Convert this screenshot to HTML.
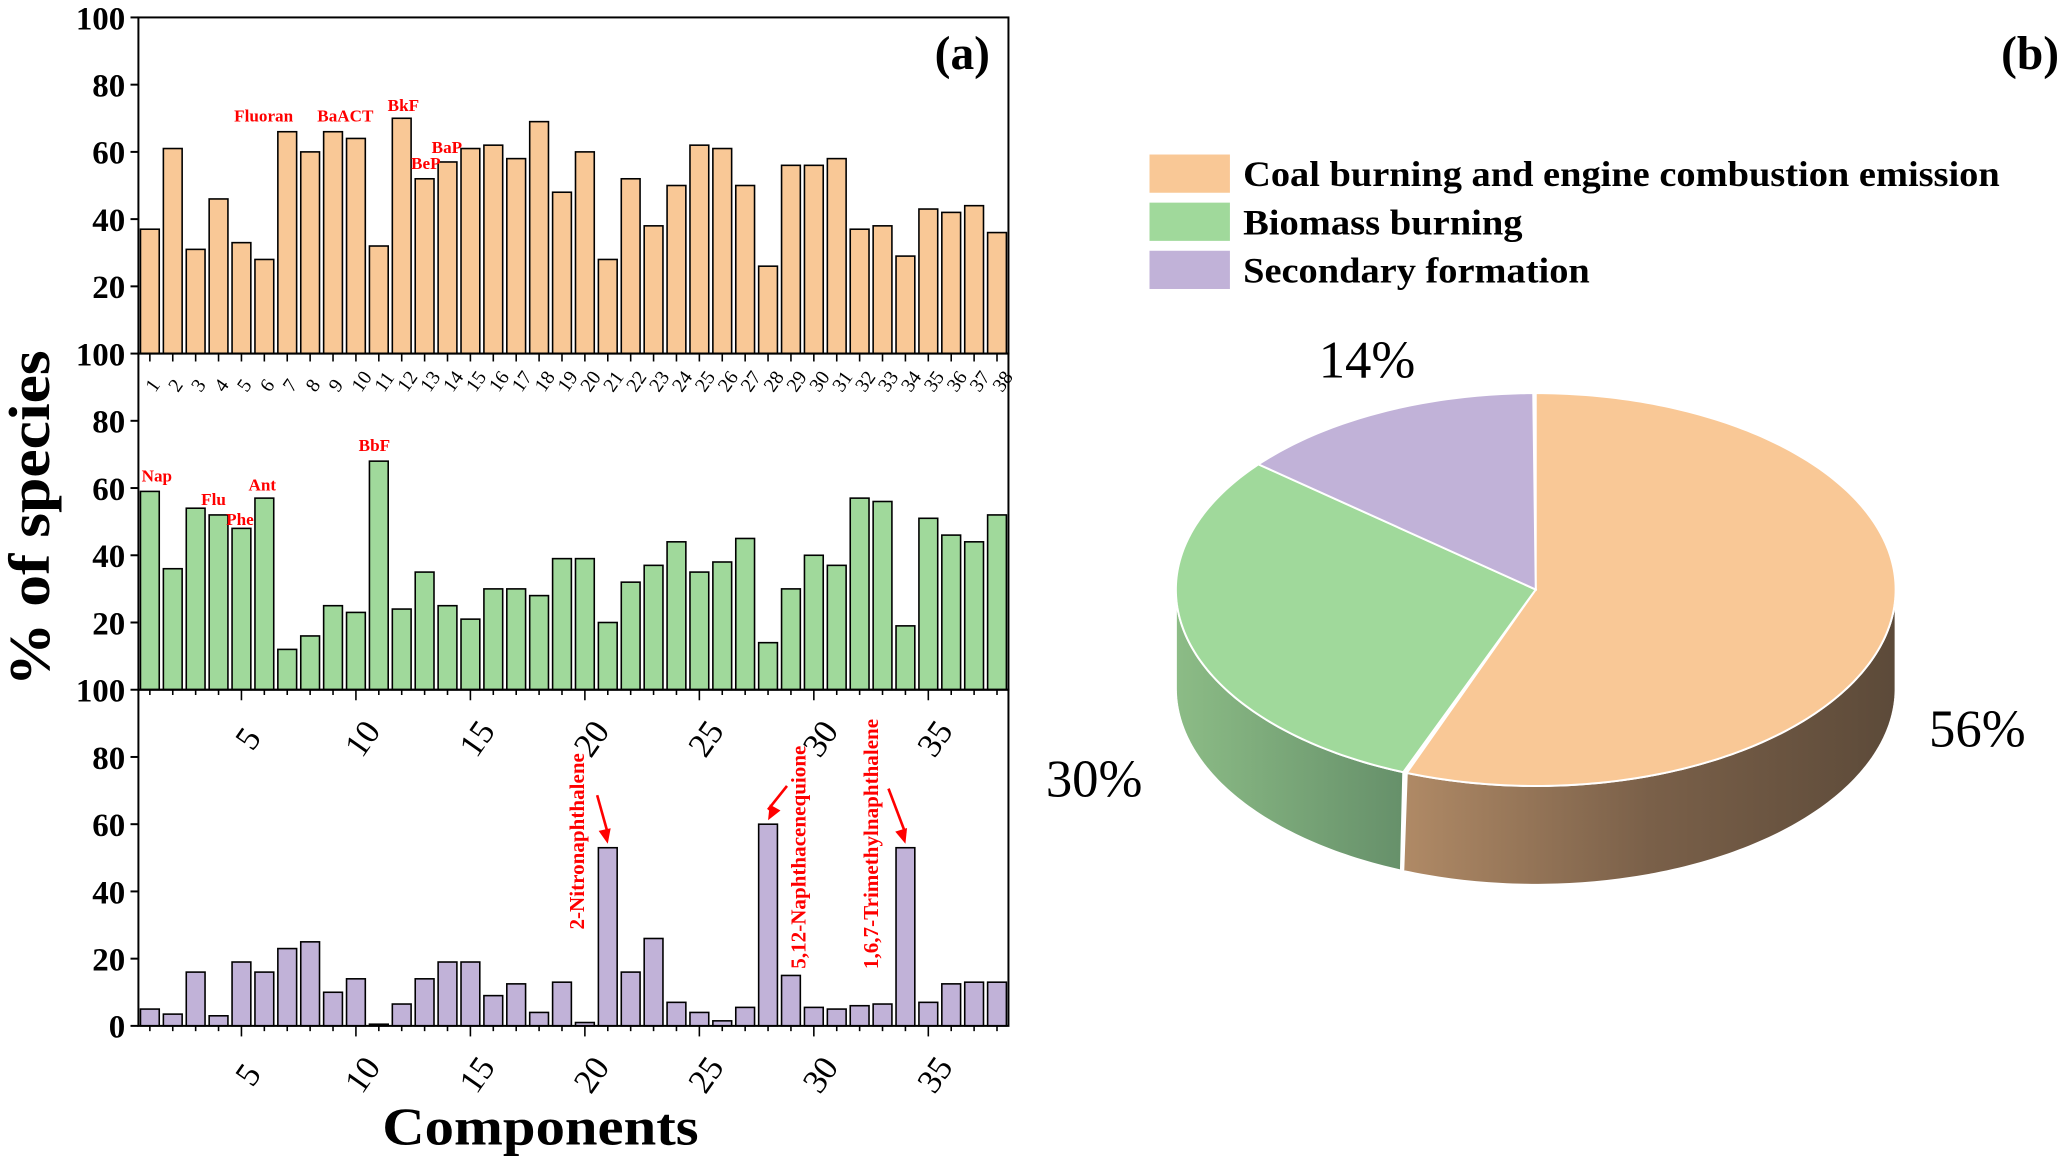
<!DOCTYPE html>
<html><head><meta charset="utf-8"><style>
html,body{margin:0;padding:0;background:#fff}
svg{display:block}
text{font-family:"Liberation Serif",serif}
</style></head><body>
<svg id="chart" width="2067" height="1158" viewBox="0 0 1568 878" xmlns="http://www.w3.org/2000/svg">
<defs>
<linearGradient id="gOr" x1="0" x2="1" y1="0" y2="0"><stop offset="0" stop-color="#b08a66"/><stop offset="0.5" stop-color="#7a6049"/><stop offset="1" stop-color="#5c4a39"/></linearGradient>
<linearGradient id="gGr" x1="0" x2="1" y1="0" y2="0"><stop offset="0" stop-color="#8cbc86"/><stop offset="1" stop-color="#66906a"/></linearGradient>
</defs>
<g id="bars"></g>
<g id="pie"></g>
<text x="0" y="0" transform="translate(37,393) rotate(-90)" text-anchor="middle" font-size="44" font-weight="bold" textLength="255" lengthAdjust="spacingAndGlyphs">% of species</text>
<text x="410" y="868" text-anchor="middle" font-size="40" font-weight="bold" textLength="240" lengthAdjust="spacingAndGlyphs">Components</text>
<text x="730" y="52" text-anchor="middle" font-size="36" font-weight="bold">(a)</text>
<text x="1540" y="52" text-anchor="middle" font-size="36" font-weight="bold">(b)</text>
</svg>
<script>
const coalValues=[37,61,31,46,33,28,66,60,66,64,32,70,52,57,61,62,58,69,48,60,28,52,38,50,62,61,50,26,56,56,58,37,38,29,43,42,44,36];
const biomassValues=[59,36,54,52,48,57,12,16,25,23,68,24,35,25,21,30,30,28,39,39,20,32,37,44,35,38,45,14,30,40,37,57,56,19,51,46,44,52];
const secondaryValues=[5,3.5,16,3,19,16,23,25,10,14,0.5,6.5,14,19,19,9,12.5,4,13,1,53,16,26,7,4,1.5,5.5,60,15,5.5,5,6,6.5,53,7,12.5,13,13];
const yTicks=[0,20,40,60,80,100];
const majorTicks=[5,10,15,20,25,30,35];
const pieLabels=["Coal burning and engine combustion emission","Biomass burning","Secondary formation"];
const legendLengths=[574,212,263];
const pieValues=[56,30,14];

const NS="http://www.w3.org/2000/svg";
function mk(tag,attrs,parent,txt){const e=document.createElementNS(NS,tag);for(const k in attrs)e.setAttribute(k,attrs[k]);if(txt!==undefined)e.textContent=txt;parent.appendChild(e);return e;}
const X0=105,X1=765,N=38;
function xs(i){return X0+(i-0.5)*(X1-X0)/N;}
const bw=(X1-X0)/N*0.82;
const panels=[{vals:coalValues,top:13,color:"#f9c896",name:"coal"},{vals:biomassValues,top:268,color:"#a0d99b",name:"biomass"},{vals:secondaryValues,top:523,color:"#c1b2d8",name:"secondary"}];
const PH=255;
const g=document.getElementById('bars');
panels.forEach((p,pi)=>{
  const ys=v=>p.top+PH-v/100*PH;
  p.vals.forEach((v,i)=>{
    const r=mk('rect',{x:xs(i+1)-bw/2,y:ys(v),width:bw,height:ys(0)-ys(v),fill:p.color,stroke:"#000","stroke-width":1.2},g);
    
    
  });
  const f=mk('rect',{x:X0,y:p.top,width:X1-X0,height:PH,fill:"none",stroke:"#000","stroke-width":1.5},g);
  
  
  yTicks.forEach(t=>{
    if(pi<2&&t===0)return;
    mk('line',{x1:X0-6,x2:X0,y1:ys(t),y2:ys(t),stroke:"#000","stroke-width":1.5},g);
    const tl=mk('text',{x:X0-10,y:ys(t)+9,"text-anchor":"end","font-size":25,"font-weight":"bold"},g,String(t));
    
    
  });
  const base=p.top+PH;
  if(pi===0){
    for(let i=1;i<=N;i++){
      mk('line',{x1:xs(i),x2:xs(i),y1:base,y2:base+6,stroke:"#000","stroke-width":1.2},g);
      const t=mk('text',{x:0,y:0,transform:`translate(${xs(i)+4},${base+30}) rotate(-55)`,"font-size":15},g,String(i));
      
      
    }
  } else {
    for(let i=1;i<=N;i++){
      const major=majorTicks.includes(i);
      mk('line',{x1:xs(i),x2:xs(i),y1:base,y2:base+(major?8:4),stroke:"#000","stroke-width":1.2},g);
    }
    majorTicks.forEach(i=>{
      const t=mk('text',{x:0,y:0,transform:`translate(${xs(i)+12},${base+42}) rotate(-55)`,"font-size":26,"text-anchor":"middle"},g,String(i));
      
      
    });
  }
});
const ann=[["Fluoran",200,92,13],["BaACT",262,92,13],["BkF",306,84,13],["BaP",339,116,13],["BeP",323,128,13],["Nap",119,365,13],["Flu",162,383,13],["Phe",182,398,13],["Ant",199,372,13],["BbF",284,342,13]];
ann.forEach(a=>{const t=mk('text',{x:a[1],y:a[2],"text-anchor":"middle","font-size":a[3],"font-weight":"bold",fill:"#f00"},g,a[0]);

});
const vann=[["2-Nitronaphthalene",443,638],["5,12-Naphthacenequione",611,650],["1,6,7-Trimethylnaphthalene",666,640]];
vann.forEach(a=>{const t=mk('text',{x:0,y:0,transform:`translate(${a[1]},${a[2]}) rotate(-90)`,"text-anchor":"middle","font-size":16,"font-weight":"bold",fill:"#f00"},g,a[0]);

});
[[453,603,21],[597,596,28],[674,598,34]].forEach(a=>{
  const tx=xs(a[2]),ty=523+PH-secondaryValues[a[2]-1]/100*PH-3;
  const l=mk('line',{x1:a[0],y1:a[1],x2:tx,y2:ty-8,stroke:"#f00","stroke-width":2},g);
  
  
  const ang=Math.atan2(ty-a[1],tx-a[0]);
  const p1=[tx-12*Math.cos(ang-0.4),ty-12*Math.sin(ang-0.4)],p2=[tx-12*Math.cos(ang+0.4),ty-12*Math.sin(ang+0.4)];
  mk('polygon',{points:`${tx},${ty} ${p1} ${p2}`,fill:"#f00"},g);
});
const pg=document.getElementById('pie');
const cx=1165,cy=447,rx=273,ry=149,D=75;
const cols=["#f9c896","#a0d99b","#c1b2d8"];
function pt(deg,dy){const r=deg*Math.PI/180;return [cx+rx*Math.sin(r),cy-ry*Math.cos(r)+(dy||0)];}
const tot=pieValues.reduce((a,b)=>a+b,0);
let acc=0;const angs=pieValues.map(v=>{const s=acc;acc+=v/tot*360;return [s,acc];});
const sideFills=["url(#gOr)","url(#gGr)","#8a7ea0"];
angs.forEach((a,i)=>{
  const s=Math.max(a[0],90),e=Math.min(a[1],270);
  if(e<=s)return;
  let pts=[];
  for(let d=s;d<=e+0.01;d+=1)pts.push(pt(Math.min(d,e)));
  for(let d=e;d>=s-0.01;d-=1)pts.push(pt(Math.max(d,s),D));
  const sp=mk('polygon',{points:pts.map(p=>p.join(',')).join(' '),fill:sideFills[i],stroke:"#fff","stroke-width":1.5},pg);
  
  
});
angs.forEach((a,i)=>{
  let pts=[[cx,cy]];
  for(let d=a[0];d<=a[1]+0.01;d+=1)pts.push(pt(Math.min(d,a[1])));
  const sl=mk('polygon',{points:pts.map(p=>p.join(',')).join(' '),fill:cols[i],stroke:"#fff","stroke-width":1.5},pg);
  
  
});
const lblPos=[[1500,566],[830,604],[1037,286]];
pieValues.forEach((v,i)=>{const t=mk('text',{x:lblPos[i][0],y:lblPos[i][1],"text-anchor":"middle","font-size":40},pg,v+"%");

});
pieLabels.forEach((l,i)=>{
  const y=117+i*36.5;
  const r=mk('rect',{x:872,y:y,width:61,height:29,fill:cols[i]},pg);
  
  
  const t=mk('text',{x:943,y:y+24,"font-size":27,"font-weight":"bold",textLength:legendLengths[i],lengthAdjust:"spacingAndGlyphs"},pg,l);
  
  
});
</script>
</body></html>
